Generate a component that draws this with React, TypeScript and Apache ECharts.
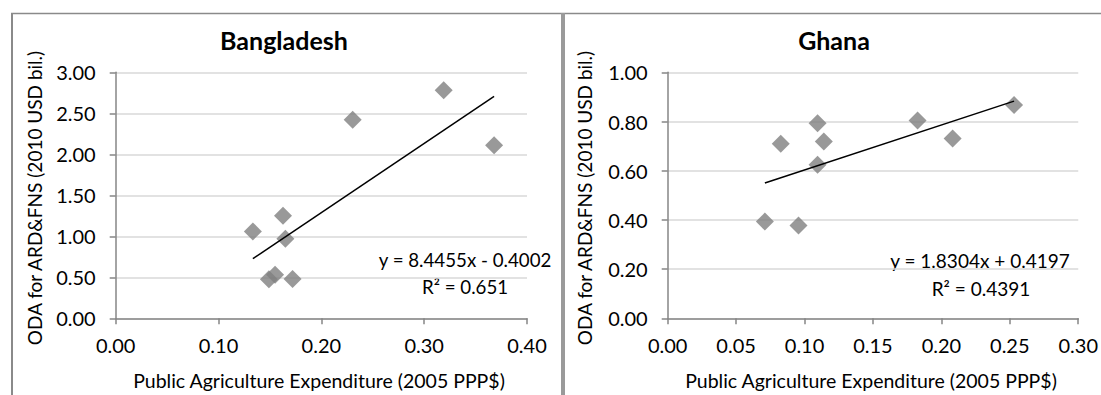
import React, { useEffect, useRef } from "react";
import * as echarts from "echarts";

// Bangladesh data
const bdX = [0.2305, 0.319, 0.368, 0.1334, 0.1627, 0.165, 0.149, 0.155, 0.172];
const bdY = [2.42, 2.78, 2.11, 1.06, 1.25, 0.97, 0.475, 0.53, 0.48];
const bdSlope = 8.4455;
const bdIntercept = -0.4002;
const bdEq = "y = 8.4455x - 0.4002";
const bdR2 = "R² = 0.651";

// Ghana data
const ghX = [0.0826, 0.1095, 0.1141, 0.1095, 0.1826, 0.2082, 0.2531, 0.071, 0.0956];
const ghY = [0.71, 0.793, 0.719, 0.624, 0.804, 0.731, 0.867, 0.393, 0.377];
const ghSlope = 1.8304;
const ghIntercept = 0.4197;
const ghEq = "y = 1.8304x + 0.4197";
const ghR2 = "R² = 0.4391";

const titles = ["Bangladesh", "Ghana"];
const xName = "Public Agriculture Expenditure (2005 PPP$)";
const yName = "ODA for ARD&FNS (2010 USD bil.)";

const FONT = "Lato, 'Open Sans', sans-serif";

function trend(xs: number[], a: number, b: number) {
  const mn = Math.min(...xs);
  const mx = Math.max(...xs);
  return [
    [mn, a * mn + b],
    [mx, a * mx + b],
  ];
}

function txt(text: string, x: number, y: number, size: number, bold = false, rotation = 0) {
  return {
    type: "text",
    x,
    y,
    rotation,
    silent: true,
    style: {
      text,
      x: 0,
      y: 0,
      fill: "#000",
      fontSize: size,
      fontFamily: FONT,
      fontWeight: bold ? "bold" : "normal",
      textAlign: "center",
      textVerticalAlign: "middle",
      align: "center",
      verticalAlign: "middle",
    },
  };
}

export default function App() {
  const ref = useRef<HTMLDivElement>(null);
  useEffect(() => {
    if (!ref.current) return;
    const chart = echarts.init(ref.current, null, { renderer: "svg" });
    const axisCommon = {
      type: "value" as const,
      axisLine: { show: true, lineStyle: { color: "#868686", width: 1.5 } },
      axisTick: { show: true, length: 6, lineStyle: { color: "#868686", width: 1.5 } },
      axisLabel: {
        color: "#000",
        fontSize: 20,
        fontFamily: FONT,
        formatter: (v: number) => v.toFixed(2),
      },
    };
    const xAxisCommon = {
      ...axisCommon,
      splitLine: { show: false },
      axisLabel: { ...axisCommon.axisLabel, margin: 17 },
    };
    const yAxisCommon = {
      ...axisCommon,
      splitLine: { show: true, lineStyle: { color: "#d9d9d9", width: 1.5 } },
      axisLabel: { ...axisCommon.axisLabel, margin: 20 },
    };
    const scatterStyle = {
      type: "scatter" as const,
      symbol: "diamond",
      symbolSize: 18,
      itemStyle: { color: "#7f7f7f" },
      z: 3,
    };
    const lineStyle = {
      type: "line" as const,
      showSymbol: false,
      symbol: "none",
      lineStyle: { color: "#000", width: 1.5 },
      z: 4,
    };
    chart.setOption({
      animation: false,
      backgroundColor: "#fff",
      grid: [
        { left: 115.7, top: 72.3, width: 411.3, height: 246 },
        { left: 667.7, top: 72.3, width: 411, height: 246 },
      ],
      xAxis: [
        { ...xAxisCommon, gridIndex: 0, min: 0, max: 0.4, interval: 0.1 },
        { ...xAxisCommon, gridIndex: 1, min: 0, max: 0.3, interval: 0.05 },
      ],
      yAxis: [
        { ...yAxisCommon, gridIndex: 0, min: 0, max: 3, interval: 0.5 },
        { ...yAxisCommon, gridIndex: 1, min: 0, max: 1, interval: 0.2 },
      ],
      series: [
        { ...scatterStyle, xAxisIndex: 0, yAxisIndex: 0, data: bdX.map((x, i) => [x, bdY[i]]) },
        { ...scatterStyle, xAxisIndex: 1, yAxisIndex: 1, data: ghX.map((x, i) => [x, ghY[i]]) },
        { ...lineStyle, xAxisIndex: 0, yAxisIndex: 0, data: trend(bdX, bdSlope, bdIntercept) },
        { ...lineStyle, xAxisIndex: 1, yAxisIndex: 1, data: trend(ghX, ghSlope, ghIntercept) },
      ],
      graphic: [
        { type: "line", silent: true, shape: { x1: 11, y1: 13.5, x2: 1101, y2: 13.5 }, style: { stroke: "#8a8a8a", lineWidth: 1.5 } },
        { type: "line", silent: true, shape: { x1: 12, y1: 13, x2: 12, y2: 395 }, style: { stroke: "#8a8a8a", lineWidth: 2 } },
        { type: "rect", silent: true, shape: { x: 561, y: 13, width: 4, height: 382 }, style: { fill: "#9a9a9a" } },
        txt(titles[0], 284, 40, 25, true),
        txt(titles[1], 834, 40, 25, true),
        txt(xName, 319, 380, 19.5),
        txt(xName, 871, 380, 19.5),
        txt(yName, 34, 198, 19, false, Math.PI / 2),
        txt(yName, 584, 198, 19, false, Math.PI / 2),
        txt(bdEq, 465, 260, 18.7),
        txt(bdR2, 465, 287, 18.7),
        txt(ghEq, 980, 260, 19),
        txt(ghR2, 981, 288, 19),
      ],
    });
    return () => chart.dispose();
  }, []);
  return (
    <div
      ref={ref}
      style={{ position: "absolute", left: 0, top: 0, width: 1101, height: 395 }}
    />
  );
}
